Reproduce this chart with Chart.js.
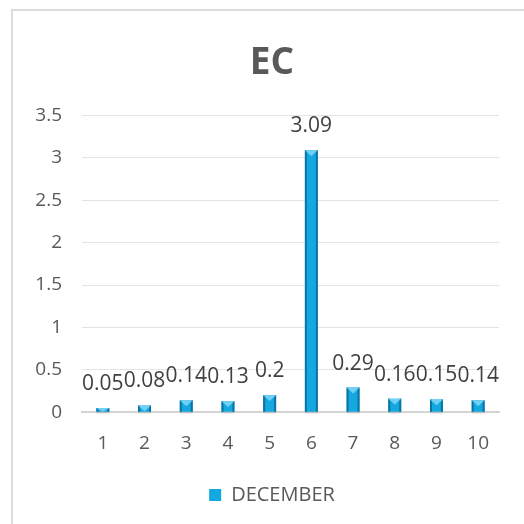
<!DOCTYPE html>
<html>
<head>
<meta charset="utf-8">
<script src="https://cdn.jsdelivr.net/npm/chart.js@4"></script>
<style>
  html, body { margin: 0; padding: 0; background: #fff; }
  #wrap { position: relative; width: 524px; height: 524px; overflow: hidden; }
  #frame { position: absolute; left: 11px; top: 9px; width: 700px; height: 700px;
           border: 2px solid #dcdcdc; box-sizing: border-box; }
  canvas { position: absolute; left: 0; top: 0; }
</style>
</head>
<body>
<div id="wrap">
  <div id="frame"></div>
  <canvas id="ecChart" width="544" height="524"></canvas>
</div>
<script>
const samples = ["1", "2", "3", "4", "5", "6", "7", "8", "9", "10"];
const ecDecember = [0.05, 0.08, 0.14, 0.13, 0.2, 3.09, 0.29, 0.16, 0.15, 0.14];
const yTicks = [0, 0.5, 1, 1.5, 2, 2.5, 3, 3.5];

const textColor = "#595959";
const fontFamily = "'Open Sans', 'Liberation Sans', sans-serif";

// bevel look on each bar: darker sides and a light wedge on top
const bevelBars = {
    id: "bevelBars",
    afterDatasetsDraw(chart) {
        const c = chart.ctx;
        chart.getDatasetMeta(0).data.forEach(function(bar) {
            const p = bar.getProps(["x", "y", "base", "width"], true);
            const l = p.x - p.width / 2, r = p.x + p.width / 2;
            const h = p.base - p.y;
            c.save();
            c.fillStyle = "#0b74a3";
            c.fillRect(l, p.y, 2, h);
            c.fillRect(r - 2, p.y, 2, h);
            const wedge = Math.min(p.width * 0.45, h);
            c.beginPath();
            c.moveTo(l, p.y);
            c.lineTo(r, p.y);
            c.lineTo(p.x, p.y + wedge);
            c.closePath();
            c.fillStyle = "#6fd0f3";
            c.fill();
            c.fillStyle = "rgba(0,0,0,0.10)";
            c.fillRect(l, p.base, p.width, 2);
            c.restore();
        });
    }
};

// value printed above each bar
const valueLabels = {
    id: "valueLabels",
    afterDatasetsDraw(chart) {
        const c = chart.ctx;
        const values = chart.data.datasets[0].data;
        c.save();
        c.font = "21px " + fontFamily;
        c.fillStyle = "#404040";
        c.textAlign = "center";
        c.textBaseline = "middle";
        chart.getDatasetMeta(0).data.forEach(function(bar, i) {
            c.fillText(String(values[i]), bar.x, bar.y - 24);
        });
        c.restore();
    }
};

const ctx = document.getElementById("ecChart").getContext("2d");
new Chart(ctx, {
    type: "bar",
    data: {
        labels: samples,
        datasets: [{
            label: "DECEMBER",
            data: ecDecember,
            backgroundColor: "#14a8e0",
            borderWidth: 0,
            barPercentage: 0.31,
            categoryPercentage: 1
        }]
    },
    options: {
        responsive: false,
        animation: false,
        layout: { padding: { left: 14, right: 14, top: 35, bottom: 9 } },
        plugins: {
            title: {
                display: true,
                text: "EC",
                color: textColor,
                font: { family: fontFamily, size: 37, weight: "bold" },
                padding: { top: 6, bottom: 30 }
            },
            legend: {
                position: "bottom",
                labels: {
                    color: textColor,
                    font: { family: fontFamily, size: 20 },
                    boxWidth: 12,
                    boxHeight: 12,
                    padding: 18
                }
            },
            tooltip: { enabled: false }
        },
        scales: {
            y: {
                min: 0,
                max: 3.5,
                afterBuildTicks: function(axis) {
                    axis.ticks = yTicks.map(function(v) { return { value: v }; });
                },
                afterFit: function(axis) { axis.width = 68; },
                ticks: {
                    color: textColor,
                    font: { family: fontFamily, size: 19 },
                    padding: 20,
                    callback: function(v) { return String(v); }
                },
                grid: { color: "#e4e4e4", drawTicks: false },
                border: { display: false }
            },
            // empty right-hand strip so the plot ends short of the frame
            yRight: {
                position: "right",
                display: true,
                min: 0,
                max: 3.5,
                afterFit: function(axis) { axis.width = 31; },
                ticks: { display: false },
                grid: { display: false },
                border: { display: false }
            },
            x: {
                ticks: {
                    color: textColor,
                    font: { family: fontFamily, size: 19 },
                    padding: 12
                },
                grid: { display: false },
                border: { color: "#d4d4d4", width: 2 }
            }
        }
    },
    plugins: [bevelBars, valueLabels]
});
</script>
</body>
</html>
